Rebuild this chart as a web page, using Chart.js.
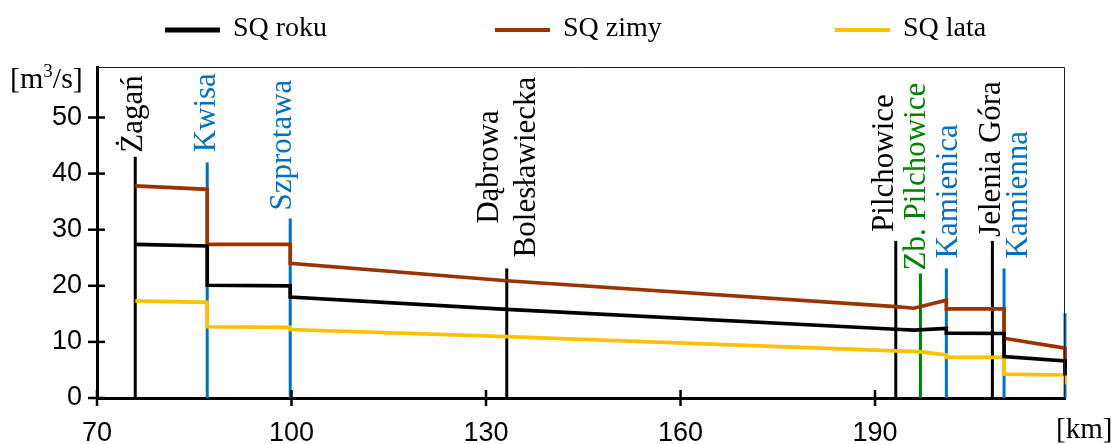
<!DOCTYPE html>
<html>
<head>
<meta charset="utf-8">
<script src="https://cdn.jsdelivr.net/npm/chart.js@4"></script>
<style>
  html, body { margin: 0; padding: 0; background: #fff; }
  #wrap { width: 1118px; height: 444px; position: relative; }
</style>
</head>
<body>
<div id="wrap"><canvas id="c" width="1118" height="444"></canvas></div>
<script>
// ---- data ----
const seriesLabels = ['SQ roku', 'SQ zimy', 'SQ lata'];
const kmRoku = [75.9, 87.0, 87.0, 99.8, 99.8, 133.2, 193.2, 196.0, 201.0, 201.0, 209.9, 209.9, 219.3, 219.3];
const sqRoku = [27.4, 27.1, 20.1, 20.0, 18.0, 15.8, 12.25, 12.1, 12.4, 11.55, 11.5, 7.4, 6.6, 4.0];
const kmZimy = [75.9, 87.0, 87.0, 99.8, 99.8, 133.2, 193.2, 196.0, 201.0, 201.0, 209.9, 209.9, 219.3, 219.3];
const sqZimy = [37.8, 37.2, 27.4, 27.4, 24.0, 20.9, 16.3, 16.0, 17.45, 15.9, 15.9, 10.65, 8.9, 5.3];
const kmLata = [75.9, 87.0, 87.0, 99.8, 99.8, 133.2, 193.2, 196.8, 201.0, 201.0, 209.9, 209.9, 219.3, 219.3];
const sqLata = [17.3, 17.05, 12.7, 12.6, 12.2, 10.95, 8.4, 8.25, 7.7, 7.25, 7.25, 4.25, 4.1, 2.4];

const placeNames = ['Żagań', 'Kwisa', 'Szprotawa', 'Dąbrowa\nBolesławiecka', 'Pilchowice', 'Zb. Pilchowice', 'Kamienica', 'Jelenia Góra', 'Kamienna', ''];
const placeKm    = [75.9, 87.0, 99.8, 133.2, 193.2, 197.0, 201.0, 208.1, 209.9, 219.3];
const placeTop   = [43.0, 42.0, 32.0, 23.1, 28.0, 22.2, 23.1, 28.0, 23.1, 15.1];
const placeKind  = ['city', 'river', 'river', 'city', 'city', 'reservoir', 'river', 'city', 'river', 'river'];

const xTickValues = [70, 100, 130, 160, 190];
const yTickValues = [0, 10, 20, 30, 40, 50];
const xMin = 70, xMax = 219.3, yMin = 0, yMax = 59;

// ---- styles ----
const seriesColors = ['#000000', '#993300', '#FFC000'];
const kindColors = { city: '#000000', river: '#0070C0', reservoir: '#008000' };
const labelStyle = [ // dx (px) from the line, gap (px) above line top
  { dx: -1, gap: 4 }, { dx: 0, gap: 10 }, { dx: -7.5, gap: 8 }, { dx: 0, gap: 11, dxLines: [-17, 20] },
  { dx: -10.5, gap: 9 }, { dx: -3.6, gap: 3 }, { dx: 2.7, gap: 10 }, { dx: -0.6, gap: 4 }, { dx: 14.7, gap: 10 }, { dx: 0, gap: 0 }
];
const legendX = [165, 495, 835];

const serif = '"Liberation Serif", "Times New Roman", serif';
const sans = '"Liberation Sans", Arial, sans-serif';

const toPts = (xs, ys) => xs.map((x, i) => ({ x: x, y: ys[i] }));

const datasets = [
  { label: seriesLabels[0], data: toPts(kmRoku, sqRoku), borderColor: seriesColors[0], borderWidth: 3.7, order: 0 },
  { label: seriesLabels[1], data: toPts(kmZimy, sqZimy), borderColor: seriesColors[1], borderWidth: 3.7, order: 0 },
  { label: seriesLabels[2], data: toPts(kmLata, sqLata), borderColor: seriesColors[2], borderWidth: 3.7, order: 0 }
];
placeKm.forEach((km, i) => {
  datasets.push({
    label: 'marker' + i,
    data: [{ x: km, y: 0 }, { x: km, y: placeTop[i] }],
    borderColor: kindColors[placeKind[i]],
    borderWidth: 3,
    order: 1
  });
});
datasets.forEach(d => { d.pointRadius = 0; d.tension = 0; d.fill = false; d.clip = false; d.borderCapStyle = 'butt'; d.borderJoinStyle = 'miter'; });

const decor = {
  id: 'decor',
  afterDraw(chart) {
    const ctx = chart.ctx, a = chart.chartArea;
    const xs = chart.scales.x, ys = chart.scales.y;
    ctx.save();
    // frame top/right
    ctx.strokeStyle = '#222'; ctx.lineWidth = 1;
    ctx.beginPath();
    ctx.moveTo(a.left, a.top + 0.5); ctx.lineTo(a.right - 0.5, a.top + 0.5); ctx.lineTo(a.right - 0.5, a.bottom);
    ctx.stroke();
    // tick marks crossing the axes
    ctx.strokeStyle = '#000'; ctx.lineWidth = 2.5;
    yTickValues.forEach(v => {
      const y = ys.getPixelForValue(v);
      ctx.beginPath(); ctx.moveTo(a.left - 9, y); ctx.lineTo(a.left + 8, y); ctx.stroke();
    });
    xTickValues.forEach(v => {
      const x = xs.getPixelForValue(v);
      ctx.beginPath(); ctx.moveTo(x, a.bottom - 8); ctx.lineTo(x, a.bottom + 8); ctx.stroke();
    });
    // place labels (rotated)
    ctx.font = '31px ' + serif;
    ctx.textBaseline = 'middle';
    placeNames.forEach((name, i) => {
      if (!name) return;
      const st = labelStyle[i];
      const x = xs.getPixelForValue(placeKm[i]);
      const yTop = ys.getPixelForValue(placeTop[i]);
      ctx.fillStyle = kindColors[placeKind[i]];
      const lines = name.split('\n');
      if (lines.length === 1) {
        ctx.save();
        ctx.translate(x + st.dx, yTop - st.gap);
        ctx.rotate(-Math.PI / 2);
        ctx.textAlign = 'left';
        ctx.fillText(name, 0, 0);
        ctx.restore();
      } else {
        const maxW = Math.max(...lines.map(l => ctx.measureText(l).width));
        const yc = yTop - st.gap - maxW / 2;
        lines.forEach((l, j) => {
          ctx.save();
          ctx.translate(x + st.dxLines[j], yc);
          ctx.rotate(-Math.PI / 2);
          ctx.textAlign = 'center';
          ctx.fillText(l, 0, 0);
          ctx.restore();
        });
      }
    });
    // axis titles
    ctx.fillStyle = '#000';
    ctx.textAlign = 'left';
    ctx.textBaseline = 'alphabetic';
    ctx.font = '30px ' + serif;
    let tx = 10;
    ctx.fillText('[m', tx, 88); tx += ctx.measureText('[m').width;
    ctx.font = '19px ' + serif;
    ctx.fillText('3', tx, 77); tx += ctx.measureText('3').width;
    ctx.font = '30px ' + serif;
    ctx.fillText('/s]', tx, 88);
    ctx.font = '29px ' + serif;
    ctx.fillText('[km]', 1056, 438);
    // legend
    ctx.textBaseline = 'middle';
    ctx.font = '28px ' + serif;
    for (let i = 0; i < 3; i++) {
      const ds = chart.data.datasets[i];
      ctx.strokeStyle = ds.borderColor;
      ctx.lineWidth = i === 0 ? 5 : 4;
      ctx.beginPath(); ctx.moveTo(legendX[i], 30); ctx.lineTo(legendX[i] + 55, 30); ctx.stroke();
      ctx.fillStyle = '#000';
      ctx.fillText(ds.label, legendX[i] + 68, 29);
    }
    ctx.restore();
  }
};

new Chart(document.getElementById('c'), {
  type: 'line',
  data: { datasets: datasets },
  options: {
    responsive: false,
    animation: false,
    events: [],
    layout: { padding: { left: 0, right: 53, top: 67, bottom: 0 } },
    plugins: { legend: { display: false }, tooltip: { enabled: false }, title: { display: false } },
    scales: {
      x: {
        type: 'linear', min: xMin, max: xMax,
        ticks: { stepSize: 30, padding: 19, color: '#000', font: { family: sans, size: 27 }, maxRotation: 0, autoSkip: false },
        afterBuildTicks: s => { s.ticks = xTickValues.map(v => ({ value: v })); },
        afterFit: s => { s.height = 46; },
        grid: { display: false, drawTicks: false },
        border: { display: true, color: '#000', width: 3 }
      },
      y: {
        type: 'linear', min: yMin, max: yMax,
        ticks: { stepSize: 10, padding: 15, color: '#000', font: { family: sans, size: 27 } },
        afterBuildTicks: s => { s.ticks = yTickValues.map(v => ({ value: v })); },
        afterFit: s => { s.width = 97; },
        grid: { display: false, drawTicks: false },
        border: { display: true, color: '#000', width: 3 }
      }
    }
  },
  plugins: [decor]
});
</script>
</body>
</html>
